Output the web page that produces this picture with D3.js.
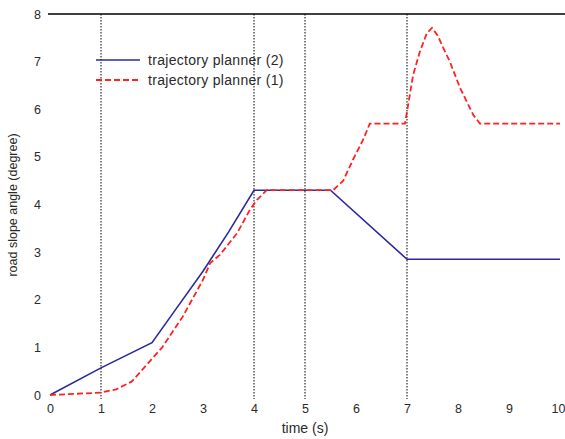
<!DOCTYPE html>
<html>
<head>
<meta charset="utf-8">
<script src="https://cdn.jsdelivr.net/npm/d3@7"></script>
<style>
  html, body { margin: 0; padding: 0; background: #fff; }
  svg { display: block; }
  text { font-family: "Liberation Sans", Arial, sans-serif; fill: #2a2a2a; }
</style>
</head>
<body>
<svg id="chart" width="565" height="439"></svg>
<script>
// Road slope angle profiles (degrees) over time (s)
const planner2Time  = [0, 1, 2, 2.5, 3, 3.5, 4, 5.5, 7, 10];
const planner2Angle = [0, 0.57, 1.1, 1.85, 2.6, 3.42, 4.3, 4.3, 2.85, 2.85];

const planner1Time  = [0, 1, 1.3, 1.6, 2.2, 2.6, 3.0, 3.14, 3.33, 3.67, 3.92, 4.06, 4.25, 5.55, 5.75, 5.94, 6.14, 6.27, 6.96, 7.0, 7.12, 7.25, 7.39, 7.49, 7.6, 7.71, 7.84, 8.04, 8.3, 8.43, 10];
const planner1Angle = [0, 0.05, 0.12, 0.28, 1.0, 1.64, 2.42, 2.77, 2.94, 3.4, 3.89, 4.1, 4.3, 4.3, 4.5, 4.94, 5.36, 5.7, 5.7, 5.95, 6.72, 7.2, 7.6, 7.71, 7.55, 7.29, 7.0, 6.45, 5.88, 5.7, 5.7];

const xTicks = [0, 1, 2, 3, 4, 5, 6, 7, 8, 9, 10];
const yTicks = [0, 1, 2, 3, 4, 5, 6, 7, 8];
const markerTimes = [1, 4, 5, 7];

const legendLabels = ["trajectory planner (2)", "trajectory planner (1)"];

const svg = d3.select("#chart");
const x = d3.scaleLinear().domain([0, 10]).range([50, 560]);
const y = d3.scaleLinear().domain([0, 8]).range([395, 14]);

// top frame line
svg.append("line")
  .attr("x1", 48).attr("x2", 565)
  .attr("y1", y(8)).attr("y2", y(8))
  .attr("stroke", "#000").attr("stroke-width", 1.5);

// dotted event markers
svg.selectAll(".marker").data(markerTimes).enter().append("line")
  .attr("x1", d => x(d)).attr("x2", d => x(d))
  .attr("y1", y(8)).attr("y2", 399)
  .attr("stroke", "#000").attr("stroke-width", 1)
  .attr("stroke-dasharray", "1.5,1.5");

// tick labels
const xAxis = d3.axisBottom(x).tickValues(xTicks).tickSize(0).tickPadding(0);
const gx = svg.append("g").attr("transform", "translate(0,404)").call(xAxis);
gx.select(".domain").remove();
gx.selectAll("text").attr("font-size", 12.5).attr("dy", "0.71em")
  .style("font-family", "Liberation Sans, Arial, sans-serif").attr("fill", "#2a2a2a");
// keep the last label inside the page edge
gx.selectAll(".tick").filter(d => d === 10).select("text")
  .attr("text-anchor", "end").attr("dx", 5);

const yAxis = d3.axisLeft(y).tickValues(yTicks).tickSize(0).tickPadding(0);
const gy = svg.append("g").attr("transform", "translate(41,0)").call(yAxis);
gy.select(".domain").remove();
gy.selectAll("text").attr("font-size", 12.5)
  .style("font-family", "Liberation Sans, Arial, sans-serif").attr("fill", "#2a2a2a");

// axis titles
svg.append("text")
  .attr("x", 305).attr("y", 433)
  .attr("text-anchor", "middle").attr("font-size", 14)
  .text("time (s)");
svg.append("text")
  .attr("transform", "translate(17,205) rotate(-90)")
  .attr("text-anchor", "middle").attr("font-size", 12.5)
  .text("road slope angle (degree)");

const line = d3.line().x(d => x(d[0])).y(d => y(d[1]));

const series1 = planner1Time.map((t, i) => [t, planner1Angle[i]]);
const series2 = planner2Time.map((t, i) => [t, planner2Angle[i]]);

svg.append("path").datum(series2)
  .attr("d", line).attr("fill", "none")
  .attr("stroke", "#2a2a9c").attr("stroke-width", 1.6);

svg.append("path").datum(series1)
  .attr("d", line).attr("fill", "none")
  .attr("stroke", "#ff2222").attr("stroke-width", 1.8)
  .attr("stroke-dasharray", "6,3");

// legend
const legend = svg.append("g");
const styles = [
  { color: "#2a2a9c", dash: null, width: 1.6 },
  { color: "#ff2222", dash: "6,3", width: 2 }
];
legendLabels.forEach((label, i) => {
  const ly = 60 + i * 20;
  legend.append("line")
    .attr("x1", 96).attr("x2", 140).attr("y1", ly).attr("y2", ly)
    .attr("stroke", styles[i].color).attr("stroke-width", styles[i].width)
    .attr("stroke-dasharray", styles[i].dash);
  legend.append("text")
    .attr("x", 148).attr("y", ly + 5)
    .attr("font-size", 14).attr("letter-spacing", 0.3)
    .text(label);
});
</script>
</body>
</html>
